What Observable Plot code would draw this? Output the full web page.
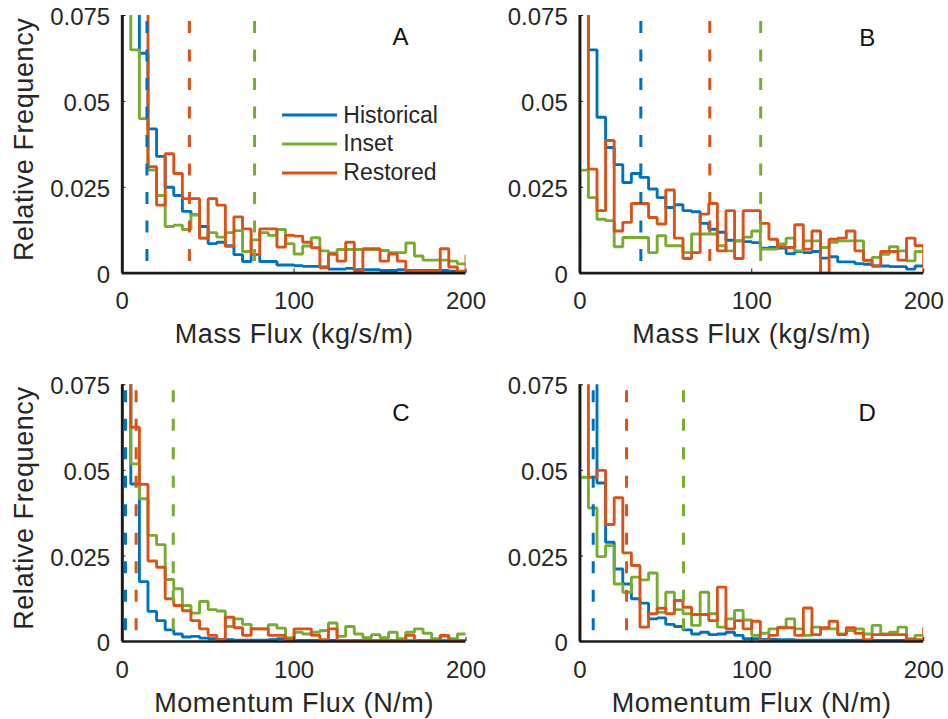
<!DOCTYPE html>
<html>
<head>
<meta charset="utf-8">
<script src="https://cdn.jsdelivr.net/npm/d3@7"></script>
<script src="https://cdn.jsdelivr.net/npm/@observablehq/plot@0.6"></script>
<style>
  html, body { margin: 0; padding: 0; background: #fff; }
  #fig { position: relative; width: 948px; height: 719px; background: #fff;
         font-family: "Liberation Sans", Arial, Helvetica, sans-serif; color: #262626; }
  .panel { position: absolute; }
  .legrow { position: absolute; display: flex; align-items: center; height: 28px; font-size: 23px; color: #262626; }
  .legrow svg { display: block; margin-right: 6.6px; }
</style>
</head>
<body>
<div id="fig"></div>
<script>
// ---------- data ----------
const seriesNames = ["Historical", "Inset", "Restored"];
const seriesColors = ["#0072BD", "#77AC30", "#D95319"];

// bin edges (5-unit bins); last bin starts at 200 and is clipped by the axis
const binEdges = [0,5,10,15,20,25,30,35,40,45,50,55,60,65,70,75,80,85,90,95,
                  100,105,110,115,120,125,130,135,140,145,150,155,160,165,170,175,180,185,190,195,200,205];

const xTicks = [0, 100, 200];
const xTickLabels = ["0", "100", "200"];
const yTicks = [0, 0.025, 0.05, 0.075];
const yTickLabels = ["0", "0.025", "0.05", "0.075"];

// Panel A: Mass Flux
const aHistorical = [0.20,0.085,0.064,0.042,0.034,0.025,0.0226,0.018,0.017,0.0136,0.0086,0.009,0.008,0.0054,0.0034,0.0054,0.0034,0.0034,0.0024,0.0024,
                     0.0022,0.002,0.002,0.0018,0.0012,0.0012,0.0014,0.001,0.001,0.001,0.0008,0.0008,0.001,0.0008,0.0008,0.0008,0.0008,0.0008,0.0006,0.0005,0.0005];
const aInset = [0.12,0.065,0.045,0.030,0.0226,0.0136,0.014,0.0127,0.017,0.0102,0.0118,0.0105,0.0118,0.0124,0.0063,0.0097,0.0118,0.011,0.0127,0.0086,
                0.0056,0.0079,0.0103,0.0065,0.0059,0.0069,0.0069,0.0069,0.0069,0.0069,0.0066,0.006,0.006,0.0088,0.005,0.0038,0.0038,0.0038,0.0035,0.0027,0.0027];
const aRestored = [0.16,0.11,0.085,0.031,0.0198,0.0348,0.029,0.0217,0.0217,0.0102,0.0217,0.0198,0.0078,0.0164,0.0129,0.0054,0.0129,0.0129,0.0076,0.011,
                   0.0108,0.009,0.0074,0.0016,0.0055,0.0035,0.009,0.0006,0.0071,0.0071,0.0035,0.0056,0.0035,0.0006,0.0006,0.0006,0.0006,0.0071,0.0018,0.0006,0.0052];
const aMeans = [14.4, 77, 39.1];

// Panel B: Mass Flux
const bHistorical = [0.09,0.065,0.0454,0.0366,0.0316,0.0264,0.029,0.0279,0.0245,0.022,0.0191,0.0199,0.0182,0.0179,0.0145,0.0128,0.0119,0.0096,0.0094,0.0092,
                     0.0089,0.0073,0.0075,0.0073,0.0057,0.0063,0.006,0.0063,0.0044,0.0048,0.0033,0.0033,0.0028,0.0026,0.0021,0.0021,0.0019,0.0019,0.0012,0.0021,0.002];
const bInset = [0.030,0.022,0.0157,0.0153,0.0077,0.0104,0.0104,0.0104,0.006,0.0109,0.008,0.008,0.006,0.0114,0.0114,0.0114,0.008,0.0065,0.0094,0.0105,
                0.0123,0.007,0.007,0.0085,0.0102,0.0065,0.0094,0.0094,0.0075,0.009,0.0094,0.0094,0.0094,0.0036,0.0046,0.0055,0.0077,0.0065,0.0036,0.0063,0.006];
const bRestored = [0.13,0.0303,0.0182,0.0386,0.0123,0.0148,0.0203,0.0203,0.0162,0.0143,0.0242,0.0102,0.0043,0.006,0.0172,0.0203,0.0065,0.0182,0.0043,0.0182,
                   0.0182,0.0145,0.0099,0.0077,0.0075,0.0141,0.007,0.0123,0,0.0099,0.0102,0.0123,0.0065,0.0038,0.0021,0.0063,0.0063,0.0038,0.0102,0.008,0];
const bMeans = [35.5, 105.2, 75.6];

// Panel C: Momentum Flux
const cHistorical = [0.15,0.046,0.0175,0.0088,0.0061,0.0034,0.0022,0.0013,0.0015,0.001,0.0008,0.0005,0.0005,0.0004,0.0004,0.0004,0.0004,0.0005,0.0008,0.0004,
                     0.0003,0.0003,0.0003,0.0003,0.0003,0.0002,0.0002,0.0002,0.0002,0.0002,0.0002,0.0002,0.0002,0.0002,0.0002,0.0002,0.0002,0.0002,0.0002,0.0002,0.0002];
const cInset = [0.08,0.0519,0.0417,0.031,0.0283,0.0181,0.0154,0.0105,0.0083,0.0117,0.0093,0.0089,0.0044,0.0066,0.005,0.0037,0.0037,0.0049,0.0039,0.0011,
                0.0027,0.0022,0.0027,0.0032,0.0054,0.0015,0.0044,0.0022,0.0011,0.002,0.0011,0.0027,0.0008,0.0027,0.0037,0.0024,0.0008,0.0015,0.0008,0.0022,0.0022];
const cRestored = [0.12,0.0626,0.0459,0.0235,0.0217,0.0125,0.0105,0.009,0.0061,0.0037,0.0018,0.0005,0.0071,0.004,0.0018,0.0037,0.0037,0.0018,0.0018,0.0005,
                   0.0037,0.0037,0.0018,0.0005,0.0037,0.0003,0.0003,0.0003,0.0003,0.0003,0.0003,0.0003,0.0003,0.0018,0.0003,0.0003,0.0003,0.0018,0.0003,0.0003,0.0003];
const cMeans = [1.9, 29.7, 8.1];

// Panel D: Momentum Flux
const dHistorical = [0.2,0.09,0.0463,0.029,0.0212,0.0168,0.0125,0.0112,0.0066,0.0069,0.005,0.0044,0.0034,0.0022,0.0027,0.002,0.0022,0.0027,0.0018,0.0008,
                     0.0008,0.0006,0.0006,0.0005,0.0005,0.0004,0.0004,0.0004,0.0004,0.0004,0.0004,0.0003,0.0004,0.0003,0.0003,0.0003,0.0003,0.0003,0.0003,0.0003,0.0003];
const dInset = [0.048,0.039,0.0248,0.028,0.0168,0.0144,0.0188,0.018,0.02,0.0085,0.0144,0.0093,0.0081,0.0047,0.0144,0.0081,0.0042,0.0066,0.0091,0.0063,
                0.0018,0.0024,0.0037,0.0042,0.0066,0.0037,0.0018,0.0042,0.0037,0.0037,0.0022,0.0032,0.0037,0.0022,0.0047,0.0022,0.0027,0.0042,0.0008,0.0018,0.0018];
const dRestored = [0.15,0.048,0.05,0.0342,0.042,0.0259,0.0222,0.0042,0.0081,0.0097,0.0081,0.012,0.01,0.0079,0.0079,0.0061,0.0159,0.0037,0.0061,0.0037,
                   0.0059,0.0003,0.0018,0.004,0.004,0.0018,0.0098,0.002,0.004,0.0059,0.002,0.004,0.0024,0.0005,0.002,0.002,0.002,0.002,0.0005,0.0005,0.004];
const dMeans = [7.8, 60.3, 27.2];

const massTitle = "Mass Flux (kg/s/m)";
const momentumTitle = "Momentum Flux (N/m)";
const yTitle = "Relative Frequency";

// ---------- drawing ----------
const FONT = '"Liberation Sans", Arial, Helvetica, sans-serif';
const AXIS = "#1a1a1a";
const TEXT = "#262626";

function stairs(values, name) {
  const n = values.length;
  const pts = [{x: binEdges[0], y: 0, s: name}];
  values.forEach((v, i) => pts.push({x: binEdges[i], y: v, s: name}));
  pts.push({x: binEdges[n], y: values[n - 1], s: name});
  pts.push({x: binEdges[n], y: 0, s: name});
  return pts;
}

function panel(cfg) {
  const lines = [cfg.hist, cfg.inset, cfg.rest].flatMap((v, i) => stairs(v, seriesNames[i]));
  const means = cfg.means.map((v, i) => ({v, s: seriesNames[i]}));
  const marks = [
    Plot.line(lines, {x: "x", y: "y", z: "s", stroke: "s", curve: "step-after",
                      strokeWidth: 2.9, strokeLinejoin: "miter", clip: true}),
    Plot.ruleX(means, {x: "v", stroke: "s", strokeWidth: 3, strokeDasharray: "12,16.5", insetTop: 6}),
    Plot.ruleY(yTicks, {y: d => d, x1: 0, x2: 2.2, stroke: AXIS, strokeWidth: 1}),
    Plot.ruleX(xTicks, {x: d => d, y1: 0, y2: 0.0012, stroke: AXIS, strokeWidth: 1}),
    Plot.ruleX([0], {stroke: AXIS, strokeWidth: 2.7}),
    Plot.ruleY([0], {stroke: AXIS, strokeWidth: 2.7}),
    Plot.axisY({ticks: yTicks, tickFormat: d => yTickLabels[yTicks.indexOf(d)], tickSize: 0,
                tickPadding: 12, fontSize: 24, dy: 2, label: null, fill: TEXT}),
    Plot.axisX({ticks: xTicks, tickFormat: d => xTickLabels[xTicks.indexOf(d)], tickSize: 0,
                tickPadding: 19, fontSize: 24, label: null, fill: TEXT}),
    Plot.text([cfg.xTitle], {text: d => d, frameAnchor: "bottom", lineAnchor: "top", textAnchor: "middle", dy: 51,
                             fontSize: 27, fill: TEXT}),
    Plot.text([cfg.letter], {text: d => d, frameAnchor: "top-right", lineAnchor: "top", textAnchor: "middle",
                             dx: cfg.letterDx, dy: cfg.letterDy, fontSize: 24, fill: "#111"})
  ];
  if (cfg.yTitle) {
    marks.push(Plot.text([cfg.yTitle], {text: d => d, frameAnchor: "left", rotate: -90, lineAnchor: "middle",
                                        textAnchor: "middle", dx: -97.5, dy: -5, fontSize: 27, fill: TEXT}));
  }
  const svg = Plot.plot({
    width: cfg.width, height: cfg.height,
    marginLeft: cfg.mL, marginRight: cfg.mR, marginTop: cfg.mT, marginBottom: cfg.mB,
    x: {domain: [0, 200]},
    y: {domain: [0, 0.075]},
    color: {domain: seriesNames, range: seriesColors},
    style: {fontFamily: FONT, fontSize: "24px", color: TEXT, background: "transparent", overflow: "visible"},
    marks
  });
  svg.classList.add("panel");
  svg.style.left = cfg.left + "px";
  svg.style.top = cfg.top + "px";
  svg.style.position = "absolute";
  // slight tracking on axis titles to match the original's wider type
  svg.querySelectorAll("text").forEach(t => {
    const s = t.textContent;
    if (s === massTitle || s === momentumTitle || s === yTitle) t.style.letterSpacing = "0.6px";
  });
  return svg;
}

const fig = document.getElementById("fig");
fig.appendChild(panel({left: 0, top: 0, width: 474, height: 360, mL: 121.7, mR: 8.5, mT: 15, mB: 87.3,
  hist: aHistorical, inset: aInset, rest: aRestored, means: aMeans,
  xTitle: massTitle, yTitle: yTitle, letter: "A", letterDx: -65.5, letterDy: 12.3}));
fig.appendChild(panel({left: 474, top: 0, width: 474, height: 360, mL: 105.3, mR: 24.8, mT: 15, mB: 87.3,
  hist: bHistorical, inset: bInset, rest: bRestored, means: bMeans,
  xTitle: massTitle, yTitle: null, letter: "B", letterDx: -56.4, letterDy: 13.3}));
fig.appendChild(panel({left: 0, top: 360, width: 474, height: 359, mL: 121.7, mR: 8.5, mT: 24.3, mB: 78,
  hist: cHistorical, inset: cInset, rest: cRestored, means: cMeans,
  xTitle: momentumTitle, yTitle: yTitle, letter: "C", letterDx: -65, letterDy: 19}));
fig.appendChild(panel({left: 474, top: 360, width: 474, height: 359, mL: 105.3, mR: 24.8, mT: 24.3, mB: 78,
  hist: dHistorical, inset: dInset, rest: dRestored, means: dMeans,
  xTitle: momentumTitle, yTitle: null, letter: "D", letterDx: -56.6, letterDy: 19}));

// legend in panel A
const legendRowsCenter = [115, 143.7, 172.7];
seriesNames.forEach((name, i) => {
  const row = document.createElement("div");
  row.className = "legrow";
  row.style.left = "281.7px";
  row.style.top = (legendRowsCenter[i] - 14) + "px";
  row.innerHTML = `<svg width="55" height="6"><line x1="0" x2="55" y1="3" y2="3" stroke="${seriesColors[i]}" stroke-width="3"/></svg><span>${name}</span>`;
  fig.appendChild(row);
});
</script>
</body>
</html>
